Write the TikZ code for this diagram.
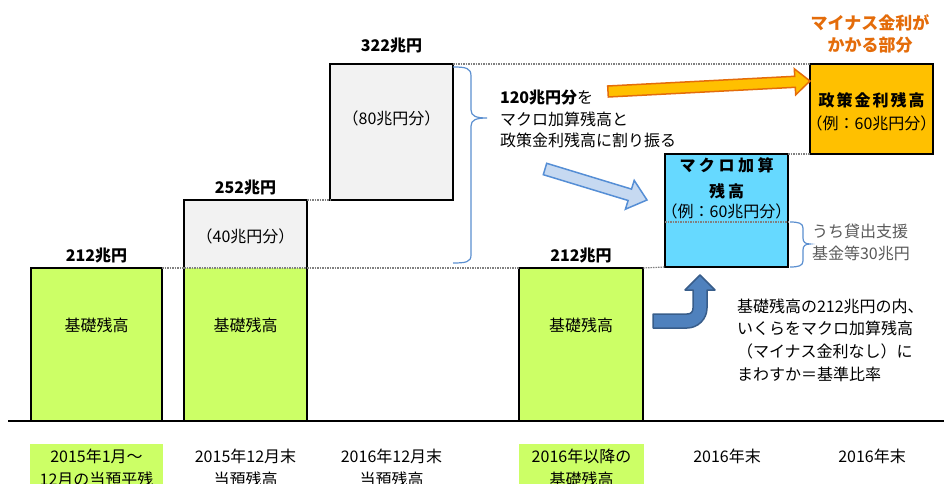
\documentclass[tikz,border=0pt]{standalone}
\usepackage{fontspec}
\setmainfont{Noto Sans CJK JP}
\usetikzlibrary{calc}
\definecolor{barGreen}{HTML}{CCFF66}
\definecolor{boxGray}{HTML}{F2F2F2}
\definecolor{macroBlue}{HTML}{66D9FF}
\definecolor{polOrange}{HTML}{FFC000}
\definecolor{txtOrange}{HTML}{E46C0A}
\definecolor{lightArrow}{HTML}{C6D9F1}
\definecolor{lightArrowLine}{HTML}{558ED5}
\definecolor{bentFill}{HTML}{4F81BD}
\definecolor{bentLine}{HTML}{385D8A}
\definecolor{braceBlue}{HTML}{5B8FD0}
\definecolor{noteGray}{HTML}{595959}
\definecolor{dotGray}{HTML}{808080}
\begin{document}
\begin{tikzpicture}[x=1pt,y=-1pt,
  every node/.style={inner sep=0pt, outer sep=0pt},
  txt/.style={font=\fontsize{16}{22}\selectfont, align=center},
  boldtxt/.style={font=\fontsize{16}{22}\selectfont\bfseries, align=center},
  greenbar/.style={fill=barGreen, draw=black, line width=2pt},
  fillgreen/.style={fill=barGreen},
  fillgray/.style={fill=boxGray},
  graybox/.style={fill=boxGray, draw=black, line width=2pt},
  bluebox/.style={fill=macroBlue, draw=black, line width=2pt},
  orangebox/.style={fill=polOrange, draw=black, line width=2pt},
  boxline/.style={draw=black, line width=2pt},
  dotline/.style={draw=dotGray, line width=1.2pt, dash pattern=on 1.5pt off 1pt},
  bracepath/.style={draw=braceBlue, line width=1.2pt},
]
\useasboundingbox (0,0) rectangle (944,484);
\clip (0,0) rectangle (944,484);

% ---- bottom label backgrounds
\node[fillgreen, minimum width=133pt, minimum height=50pt, anchor=north] (g1) at (96.5,444) {};
\node[fillgreen, minimum width=125pt, minimum height=50pt, anchor=north] (g4) at (581.5,444) {};

% ---- bar 1
\node[greenbar, minimum width=131pt, minimum height=153pt] (b1) at (96.5,344.5) {};
\node[txt] (b1t) at (96.5,325) {基礎残高};
\node[boldtxt] (b1v) at (96.5,256) {212兆円};

% ---- bar 2
\node[fillgreen, minimum width=123pt, minimum height=153pt] (b2) at (245.5,344.5) {};
\node[fillgray, minimum width=123pt, minimum height=68pt] (b2u) at (245.5,234) {};
\draw[boxline] (b2.south west) -- (b2u.north west) -- (b2u.north east) -- (b2.south east);
\node[txt] (b2t) at (245.5,325) {基礎残高};
\node[txt] (b2ut) at (245.5,236) {（40兆円分）};
\node[boldtxt] (b2v) at (245.5,188) {252兆円};

% ---- bar 3
\node[graybox, minimum width=123pt, minimum height=136pt] (b3) at (391.5,132) {};
\node[txt] (b3t) at (391.5,118) {（80兆円分）};
\node[boldtxt] (b3v) at (391.5,46) {322兆円};

% ---- bar 4
\node[greenbar, minimum width=124pt, minimum height=153pt] (b4) at (581,344.5) {};
\node[txt] (b4t) at (581,325) {基礎残高};
\node[boldtxt] (b4v) at (581,256) {212兆円};

% ---- macro box
\node[bluebox, minimum width=123pt, minimum height=113pt] (mac) at (726.5,210.5) {};
\coordinate (m1) at (665,222);
\coordinate (m2) at (788,222);
\draw[dotline, line width=1.6pt] (m1) -- (m2);
\node[boldtxt] (mact1) at (726.5,165) {マ\hspace{3.5pt}ク\hspace{3.5pt}ロ\hspace{3.5pt}加\hspace{3.5pt}算};
\node[boldtxt] (mact2) at (726.5,191) {残\hspace{3pt}高};
\node[txt] (mact3) at (726.5,211) {（例：60兆円分）};

% ---- policy box
\node[orangebox, minimum width=123pt, minimum height=90pt] (pol) at (871.5,109) {};
\node[boldtxt] (polt1) at (871.5,100) {政\hspace{2pt}策\hspace{2pt}金\hspace{2pt}利\hspace{2pt}残\hspace{2pt}高};
\node[txt] (polt2) at (871.5,123) {（例：60兆円分）};

% ---- dotted guide lines
\draw[dotline] (b1.north east) -- (b2.north west);
\draw[dotline] (b2.north west) -- (b2.north east);
\draw[dotline] (b2.north east) -- (b4.north west);
\draw[dotline] (b4.north east) -- (mac.south west);
\draw[dotline] (b2u.north east) -- (b3.south west);
\draw[dotline] (b3.north east) -- (pol.north west);
\draw[dotline] (mac.north east) -- (pol.south west);

% ---- heading
\node[boldtxt, text=txtOrange, font=\fontsize{17}{22.5}\selectfont\bfseries] (head) at (870,34) {マイナス金利が\\かかる部分};

% ---- middle text
\node[txt, align=left, anchor=west, font=\fontsize{16}{21.5}\selectfont] (mid) at (500,119)
  {\textbf{120兆円分}を\\マクロ加算残高と\\政策金利残高に割り振る};

% ---- right note
\node[txt, align=left, anchor=west, font=\fontsize{16}{22.7}\selectfont] (note) at (737,340)
  {基礎残高の212兆円の内、\\いくらをマクロ加算残高\\（マイナス金利なし）に\\まわすか＝基準比率};

% ---- small note
\node[txt, align=left, anchor=west, text=noteGray, font=\fontsize{16}{22.5}\selectfont] (snote) at (812,242.5)
  {うち貸出支援\\基金等30兆円};

% ---- braces
\draw[bracepath] (453,67) .. controls (466,67) and (471,68) .. (471,76) -- (471,110)
  .. controls (471,116) and (476,118) .. (487,118)
  .. controls (476,118) and (471,120) .. (471,126) -- (471,255)
  .. controls (471,262) and (466,263) .. (453,263);
\draw[bracepath] (790,222) .. controls (798,222) and (803,223) .. (803,228) -- (803,238)
  .. controls (803,242) and (805,244) .. (810,244)
  .. controls (805,244) and (803,246) .. (803,250) -- (803,261)
  .. controls (803,266) and (798,267) .. (790,267);

% ---- orange arrow
\draw[draw=txtOrange, fill=polOrange, line width=1.5pt, line join=miter]
  (607.7,86.0) -- (794.7,76.3) -- (794.3,68.8) -- (810,81) -- (795.7,94.8) -- (795.3,87.3) -- (608.3,97.0) -- cycle;

% ---- light blue arrow
\draw[draw=lightArrowLine, fill=lightArrow, line width=1.5pt, line join=miter]
  (546.7,163.3) -- (631.5,189.1) -- (634.2,180.4) -- (647,200) -- (625.4,209.2) -- (628.1,200.5) -- (543.3,174.7) -- cycle;

% ---- bent up arrow
\draw[draw=bentLine, fill=bentFill, line width=1.5pt, line join=round]
  (653,314) -- (687,314) .. controls (691,314) and (693,312) .. (693,308)
  -- (693,290) -- (685,290) -- (700,275) -- (715,290) -- (707,290) -- (707,308)
  .. controls (707,319) and (698,328) .. (687,328) -- (653,328) -- cycle;

% ---- baseline
\coordinate (bl) at (8,421);
\coordinate (br) at (944,421);
\draw[line width=2pt] (bl) -- (br);

% ---- bottom labels
\node[txt, font=\fontsize{16}{23}\selectfont] (l1) at (96.5,468) {2015年1月～\\12月の当預平残};
\node[txt, font=\fontsize{16}{23}\selectfont] (l2) at (245.5,468) {2015年12月末\\当預残高};
\node[txt, font=\fontsize{16}{23}\selectfont] (l3) at (391.5,468) {2016年12月末\\当預残高};
\node[txt, font=\fontsize{16}{23}\selectfont] (l4) at (581.5,468) {2016年以降の\\基礎残高};
\node[txt] (l5) at (727,456) {2016年末};
\node[txt] (l6) at (872,456) {2016年末};
\end{tikzpicture}
\end{document}
